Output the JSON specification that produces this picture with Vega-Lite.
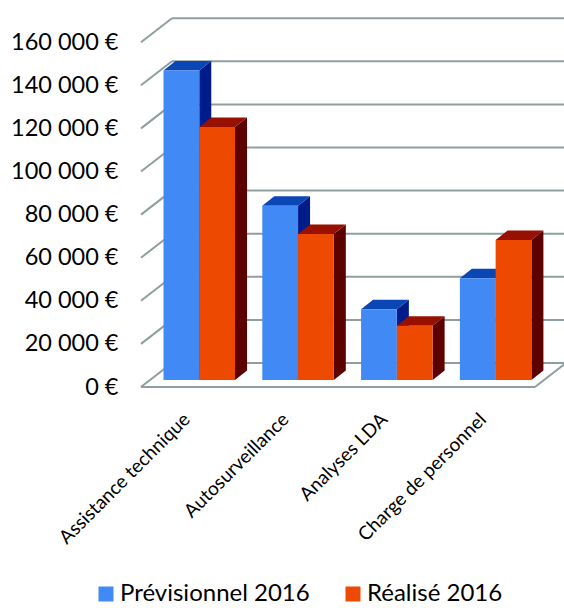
{
  "$schema": "https://vega.github.io/schema/vega-lite/v6.json",
  "width": 564,
  "height": 400,
  "padding": {"left": 0, "top": 0, "right": 0, "bottom": 208},
  "autosize": "none",
  "background": "white",
  "config": {"view": {"stroke": null}, "font": "Lato"},
  "datasets": {
    "bars": [
      {"cat": "Assistance technique", "series": "Prévisionnel 2016", "value": 143600},
      {"cat": "Autosurveillance", "series": "Prévisionnel 2016", "value": 80900},
      {"cat": "Analyses LDA", "series": "Prévisionnel 2016", "value": 32800},
      {"cat": "Charge de personnel", "series": "Prévisionnel 2016", "value": 47200},
      {"cat": "Assistance technique", "series": "Réalisé 2016", "value": 117400},
      {"cat": "Autosurveillance", "series": "Réalisé 2016", "value": 67750},
      {"cat": "Analyses LDA", "series": "Réalisé 2016", "value": 25200},
      {"cat": "Charge de personnel", "series": "Réalisé 2016", "value": 65000}
    ],
    "ticks": [
      {"tick": 0}, {"tick": 20000}, {"tick": 40000}, {"tick": 60000}, {"tick": 80000},
      {"tick": 100000}, {"tick": 120000}, {"tick": 140000}, {"tick": 160000}
    ]
  },
  "layer": [
    {
      "data": {"name": "ticks"},
      "transform": [
        {"calculate": "-0.276", "as": "xa"},
        {"calculate": "3.75", "as": "xb"},
        {"calculate": "datum.tick + 11136", "as": "yb"}
      ],
      "mark": {"type": "rule", "color": "#8f9e9e", "strokeWidth": 2},
      "encoding": {
        "x": {
          "field": "xa", "type": "quantitative",
          "scale": {"domain": [-2.017, 3.692], "nice": false, "zero": false},
          "axis": {
            "title": null, "values": [0, 1, 2, 3], "domain": false, "ticks": false, "grid": false,
            "labelExpr": "['Assistance technique','Autosurveillance','Analyses LDA','Charge de personnel'][datum.value]",
            "labelAngle": -45, "labelAlign": "right", "labelBaseline": "middle",
            "labelFontSize": 19, "labelColor": "#000000", "labelPadding": 16, "labelOffset": -13, "labelOverlap": false, "labelBound": false, "labelFlush": false
          }
        },
        "x2": {"field": "xb"},
        "y": {
          "field": "yb", "type": "quantitative",
          "scale": {"domain": [-6032, 179582], "nice": false, "zero": false},
          "axis": {
            "title": null, "values": [0, 20000, 40000, 60000, 80000, 100000, 120000, 140000, 160000],
            "domain": false, "ticks": false, "grid": false, "offset": -118, "labelPadding": 0,
            "labelExpr": "replace(format(datum.value, ','), ',', ' ') + ' €'",
            "labelFontSize": 23.5, "labelColor": "#000000", "labelOverlap": false, "labelBound": false, "labelFlush": false
          }
        }
      }
    },
    {
      "data": {"name": "ticks"},
      "transform": [
        {"calculate": "-0.59", "as": "xa"},
        {"calculate": "-0.276", "as": "xb"},
        {"calculate": "datum.tick + 11136", "as": "yb"}
      ],
      "mark": {"type": "rule", "color": "#8f9e9e", "strokeWidth": 2},
      "encoding": {
        "x": {"field": "xa", "type": "quantitative"},
        "x2": {"field": "xb"},
        "y": {"field": "tick", "type": "quantitative"},
        "y2": {"field": "yb"}
      }
    },
    {
      "data": {"name": "ticks"},
      "transform": [
        {"filter": "datum.tick === 0"},
        {"calculate": "-0.59", "as": "xa"},
        {"calculate": "3.398", "as": "xb"}
      ],
      "mark": {"type": "rule", "color": "#8f9e9e", "strokeWidth": 2},
      "encoding": {
        "x": {"field": "xa", "type": "quantitative"},
        "x2": {"field": "xb"},
        "y": {"field": "tick", "type": "quantitative"}
      }
    },
    {
      "data": {"name": "ticks"},
      "transform": [
        {"filter": "datum.tick === 0"},
        {"calculate": "3.398", "as": "xa"},
        {"calculate": "3.712", "as": "xb"},
        {"calculate": "datum.tick + 11136", "as": "yb"}
      ],
      "mark": {"type": "rule", "color": "#8f9e9e", "strokeWidth": 2, "clip": true},
      "encoding": {
        "x": {"field": "xa", "type": "quantitative"},
        "x2": {"field": "xb"},
        "y": {"field": "tick", "type": "quantitative"},
        "y2": {"field": "yb"}
      }
    },
    {
      "data": {"name": "bars"},
      "transform": [
        {"calculate": "indexof(['Assistance technique','Autosurveillance','Analyses LDA','Charge de personnel'], datum.cat) + (datum.series === 'Réalisé 2016' ? 0.362 : 0)", "as": "xr"},
        {"calculate": "[0, 1]", "as": "k"},
        {"flatten": ["k"]},
        {"calculate": "datum.xr + datum.k * 0.1215", "as": "xs"},
        {"calculate": "datum.value + 3248 + datum.k * 4408", "as": "ys"},
        {"calculate": "3248 + datum.k * 4408", "as": "ys2"}
      ],
      "mark": {"type": "area", "orient": "vertical"},
      "encoding": {
        "x": {"field": "xs", "type": "quantitative"},
        "y": {"field": "ys", "type": "quantitative", "stack": null},
        "y2": {"field": "ys2"},
        "detail": {"field": "cat"},
        "color": {
          "field": "series", "type": "nominal", "legend": null,
          "scale": {"domain": ["Prévisionnel 2016", "Réalisé 2016"], "range": ["#001c8a", "#5c0000"]}
        }
      }
    },
    {
      "data": {"name": "bars"},
      "transform": [
        {"calculate": "indexof(['Assistance technique','Autosurveillance','Analyses LDA','Charge de personnel'], datum.cat) + (datum.series === 'Réalisé 2016' ? 0.362 : 0)", "as": "xr"},
        {"calculate": "[0, 1]", "as": "k"},
        {"flatten": ["k"]},
        {"calculate": "datum.xr - 0.362 + datum.k * 0.1215", "as": "xs"},
        {"calculate": "datum.xr + datum.k * 0.1215", "as": "xs2"},
        {"calculate": "datum.value + 3248 + datum.k * 4408", "as": "ys"}
      ],
      "mark": {"type": "area", "orient": "horizontal"},
      "encoding": {
        "y": {"field": "ys", "type": "quantitative"},
        "x": {"field": "xs", "type": "quantitative", "stack": null},
        "x2": {"field": "xs2"},
        "detail": {"field": "cat"},
        "color": {
          "field": "series", "type": "nominal", "legend": null,
          "scale": {"domain": ["Prévisionnel 2016", "Réalisé 2016"], "range": ["#0b46b5", "#971000"]}
        }
      }
    },
    {
      "data": {"name": "bars"},
      "transform": [
        {"calculate": "indexof(['Assistance technique','Autosurveillance','Analyses LDA','Charge de personnel'], datum.cat) + (datum.series === 'Réalisé 2016' ? 0.362 : 0)", "as": "xr"},
        {"calculate": "datum.xr - 0.362", "as": "xl"},
        {"calculate": "datum.value + 3248", "as": "yt"},
        {"calculate": "3248", "as": "yb"}
      ],
      "mark": {"type": "rect"},
      "encoding": {
        "x": {"field": "xl", "type": "quantitative"},
        "x2": {"field": "xr"},
        "y": {"field": "yt", "type": "quantitative"},
        "y2": {"field": "yb"},
        "color": {
          "field": "series", "type": "nominal", "title": null,
          "scale": {"domain": ["Prévisionnel 2016", "Réalisé 2016"], "range": ["#418af6", "#ee4900"]},
          "legend": {
            "orient": "none", "legendX": 94, "legendY": 582, "direction": "horizontal", "columns": 2,
            "symbolType": "square", "symbolSize": 225, "symbolStrokeWidth": 0, "symbolOpacity": 1,
            "labelFontSize": 24, "labelColor": "#000000", "labelLimit": 300, "columnPadding": 31, "labelOffset": 2
          }
        }
      }
    }
  ],
  "resolve": {"scale": {"color": "independent"}}
}
